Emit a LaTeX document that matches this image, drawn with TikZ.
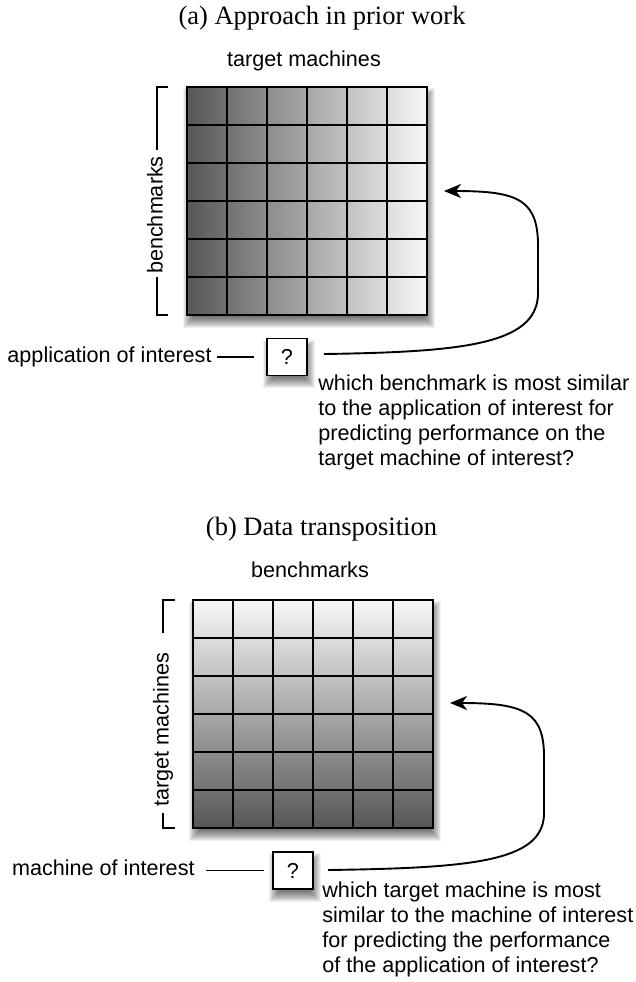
\documentclass[tikz,border=0pt]{standalone}
\usepackage{fontspec}
\setmainfont{Liberation Serif}
\setsansfont{Liberation Sans}
\usetikzlibrary{arrows.meta}
\newcommand\mysoftshadow[4]{%
  \foreach \r in {0,...,12}{%
    \fill[black,opacity=0.06] (#1+2+6-\r,#2+7+6-\r) rectangle (#3+2-6+\r,#4+7-6+\r);}}
\tikzset{
  lbl/.style={font=\sffamily\fontsize{10.8}{12.5}\selectfont, inner sep=0pt},
  ttl/.style={font=\rmfamily\fontsize{13.25}{15}\selectfont, inner sep=0pt},
  qbox/.style={draw, fill=white, line width=0.9pt, minimum width=20pt, minimum height=18.5pt, inner sep=0pt,
    font=\sffamily\fontsize{10.8}{12.5}\selectfont},
  gridline/.style={line width=1.2pt},
  gridframe/.style={line width=1.4pt},
  brk/.style={line width=0.85pt},
  conn/.style={line width=0.95pt},
  arr/.style={conn, -{Stealth[length=8.5pt,width=7pt,inset=2.5pt]}}
}
\begin{document}
\begin{tikzpicture}[x=0.5pt,y=-0.5pt]
\useasboundingbox[fill=white] (0,0) rectangle (636,982);

% ---------------- (a) ----------------
\node[ttl, anchor=base] (ta) at (322,24) {(a) Approach in prior work};
\node[lbl, anchor=base] (tma) at (304,66.5) {target machines};

\mysoftshadow{187}{87}{427}{315}
\shade[left color=black!66, right color=black!3] (187,87) rectangle (427,315);
\foreach \i in {1,...,5}{
  \draw[gridline] (187+40*\i,87) -- (187+40*\i,315);
  \draw[gridline] (187,87+38*\i) -- (427,87+38*\i);}
\draw[gridframe] (187,87) rectangle (427,315);

\node[lbl, anchor=base, rotate=90] (bma) at (162.6,215) {benchmarks};
\draw[brk] (168,87) -- (157,87) -- (157,150);
\draw[brk] (157,277) -- (157,315) -- (168,315);

\node[lbl, anchor=base east] (app) at (212,362.6) {application of interest};
\mysoftshadow{267}{339}{307}{375}
\node[qbox] (qa) at (287,357) {?};
\draw[conn] ([xshift=-6pt]qa.west) -- ([xshift=-24.5pt]qa.west);

\coordinate (a0) at (324,354);
\coordinate (atip) at (444,191);
\draw[arr] (a0) .. controls (460,352) and (536,345) .. (538,295) -- (538,250)
  .. controls (539,200) and (520,191) .. (atip);

\node[lbl, anchor=north west, align=left] (qta) at (318,374.2)
  {which benchmark is most similar\\to the application of interest for\\predicting performance on the\\target machine of interest?};

% ---------------- (b) ----------------
\node[ttl, anchor=base] (tb) at (321.5,535) {(b) Data transposition};
\node[lbl, anchor=base] (bmb) at (310,577.6) {benchmarks};

\mysoftshadow{193}{600}{433}{828}
\shade[top color=black!3, bottom color=black!66] (193,600) rectangle (433,828);
\foreach \i in {1,...,5}{
  \draw[gridline] (193+40*\i,600) -- (193+40*\i,828);
  \draw[gridline] (193,600+38*\i) -- (433,600+38*\i);}
\draw[gridframe] (193,600) rectangle (433,828);

\node[lbl, anchor=base, rotate=90] (tmb) at (168.6,729.5) {target machines};
\draw[brk] (175,600) -- (163,600) -- (163,633);
\draw[brk] (163,813) -- (163,828) -- (175,828);

\node[lbl, anchor=base east] (moi) at (195,875.6) {machine of interest};
\mysoftshadow{273}{852}{313}{889}
\node[qbox] (qb) at (293,870.5) {?};
\draw[conn] ([xshift=-4pt]qb.west) -- ([xshift=-33pt]qb.west);

\coordinate (b0) at (328,870);
\coordinate (btip) at (450,703);
\draw[arr] (b0) .. controls (470,868) and (542,862) .. (544,815) -- (544,760)
  .. controls (545,712) and (525,703) .. (btip);

\node[lbl, anchor=north west, align=left] (qtb) at (322,881.2)
  {which target machine is most\\similar to the machine of interest\\for predicting the performance\\of the application of interest?};
\end{tikzpicture}
\end{document}
